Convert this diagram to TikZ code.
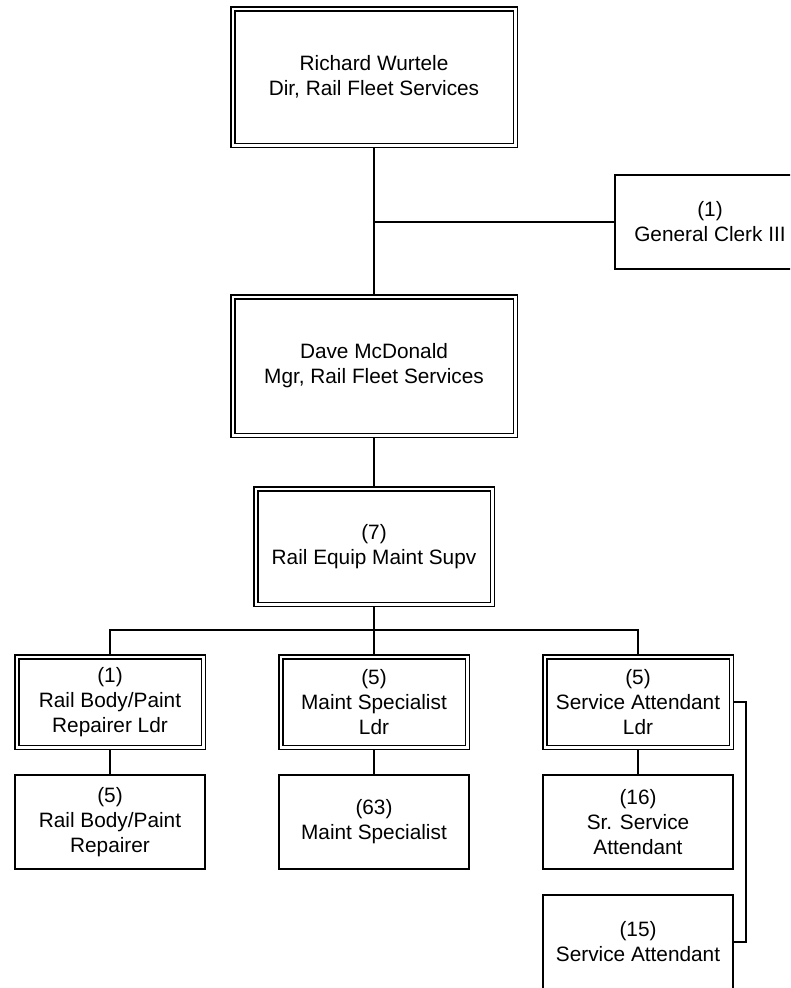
\documentclass[tikz,border=0pt]{standalone}
\usepackage{fontspec}
\setmainfont{Liberation Sans}
\usetikzlibrary{positioning}

\begin{document}
\begin{tikzpicture}[
      x=1pt, y=1pt,
      font=\fontsize{20.8}{25}\selectfont,
      node distance=24pt and 72pt,
      box/.style={draw, line width=2pt, align=center, inner sep=4pt, outer sep=1pt},
      dbox/.style={draw, line width=1.5pt, double, double distance=2.5pt, align=center, inner sep=4pt, outer sep=2.75pt},
      line/.style={line width=2pt}]
    \useasboundingbox (0,0) rectangle (790,-988);
    \clip (0,0) rectangle (790,-988);
    \node[dbox, minimum width=282.5pt, minimum height=136.5pt] (dir) at (374,-77) {Richard Wurtele\\Dir, Rail Fleet Services};
    \node[dbox, minimum width=282.5pt, minimum height=138.5pt, below=146pt of dir] (mgr) {Dave McDonald\\Mgr, Rail Fleet Services};
    \node[dbox, minimum width=236.5pt, minimum height=115.5pt, below=48pt of mgr] (supv) {(7)\\Rail Equip Maint Supv};
    \node[box, anchor=west, minimum width=190pt, minimum height=94pt] (clerk) at (614,-222) {(1)\\General Clerk III};
    \node[dbox, minimum width=186.5pt, minimum height=90.5pt, below=47pt of supv] (ldrB) {(5)\\Maint Specialist\\Ldr};
    \node[dbox, minimum width=186.5pt, minimum height=90.5pt, left=of ldrB] (ldrA) {(1)\\Rail Body/Paint\\Repairer Ldr};
    \node[dbox, minimum width=186.5pt, minimum height=90.5pt, right=of ldrB] (ldrC) {(5)\\Service Attendant\\Ldr};
    \node[box, minimum width=190pt, minimum height=94pt, below=of ldrA] (repA) {(5)\\Rail Body/Paint\\Repairer};
    \node[box, minimum width=190pt, minimum height=94pt, below=of ldrB] (specB) {(63)\\Maint Specialist};
    \node[box, minimum width=190pt, minimum height=94pt, below=of ldrC] (srC) {(16)\\Sr. Service\\Attendant};
    \node[box, minimum width=190pt, minimum height=94pt, below=of srC] (att) {(15)\\Service Attendant};
    \coordinate[below=23pt of supv] (bus);
    \draw[line] (dir) -- (mgr);
    \draw[line] (dir.south |- clerk.west) -- (clerk.west);
    \draw[line] (mgr) -- (supv);
    \draw[line] (supv) -- (bus);
    \draw[line] (bus) -| (ldrA);
    \draw[line] (bus) -| (ldrC);
    \draw[line] (bus) -- (ldrB);
    \draw[line] (ldrA) -- (repA);
    \draw[line] (ldrB) -- (specB);
    \draw[line] (ldrC) -- (srC);
    \draw[line] (ldrC.east) -- ++(12,0) |- (att.east);
  \end{tikzpicture}
\end{document}
